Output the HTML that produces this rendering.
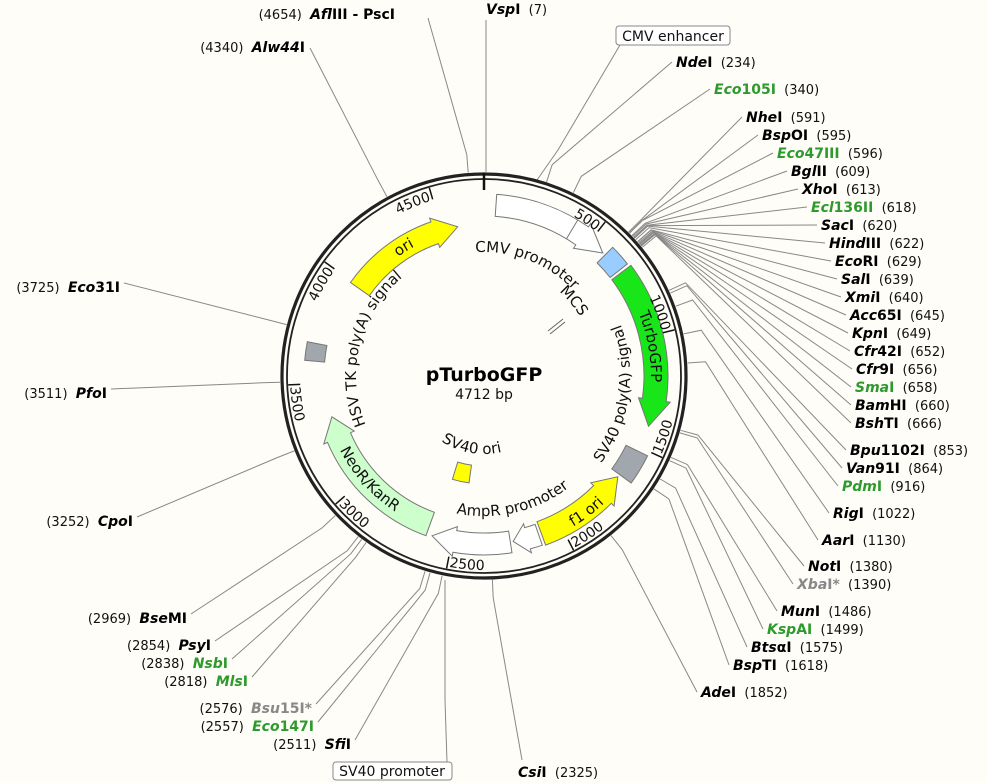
<!DOCTYPE html>
<html><head><meta charset="utf-8">
<style>
html,body{margin:0;padding:0;background:#fffdf7;}
svg{display:block;font-family:"DejaVu Sans","Liberation Sans",sans-serif;}
.n{font-size:13px;fill:#111;}
.e{font-size:14px;font-weight:bold;}
.f{font-size:15px;fill:#111;}
.t{font-size:14px;fill:#111;}
</style></head>
<body>
<svg id="s" width="987" height="783" viewBox="0 0 987 783" xmlns="http://www.w3.org/2000/svg">
<rect width="987" height="783" fill="#fffdf7"/>
<g id="lines" stroke="#888" stroke-width="1" fill="none"></g>
<g id="feat"></g>
<circle cx="484" cy="376" r="202" fill="none" stroke="#222" stroke-width="3.2"/>
<circle cx="484" cy="376" r="197" fill="none" stroke="#222" stroke-width="1.8"/>
<g id="ticks"></g>
<defs id="defs"></defs>
<g id="labels"></g>
<text x="484" y="381" text-anchor="middle" style="font-size:19px;font-weight:bold;fill:#000">pTurboGFP</text>
<text x="484" y="399" text-anchor="middle" style="font-size:14px;fill:#111">4712 bp</text>
<rect x="616" y="26" width="114" height="19" rx="3" fill="#fff" stroke="#888"/>
<text x="673" y="41" text-anchor="middle" class="f" style="font-size:14px">CMV enhancer</text>
<rect x="333" y="762" width="119" height="18" rx="3" fill="#fff" stroke="#888"/>
<text x="392" y="776" text-anchor="middle" class="f" style="font-size:14px">SV40 promoter</text>
</svg>
<script>
var NS="http://www.w3.org/2000/svg",cx=484,cy=376,L=4712;
function P(a,r){var t=a*Math.PI/180;return [cx+r*Math.sin(t),cy-r*Math.cos(t)];}
function el(tag,attrs,parent,txt){var e=document.createElementNS(NS,tag);for(var k in attrs)e.setAttribute(k,attrs[k]);if(txt!=null)e.textContent=txt;document.getElementById(parent).appendChild(e);return e;}
function f(p){return p[0].toFixed(1)+","+p[1].toFixed(1);}
function arc(r,a1,a2){var s=a2>a1?1:0,l=Math.abs(a2-a1)>180?1:0;return "M"+f(P(a1,r))+" A"+r+","+r+" 0 "+l+","+s+" "+f(P(a2,r));}
function arcTo(r,a1,a2){var s=a2>a1?1:0,l=Math.abs(a2-a1)>180?1:0;return " A"+r+","+r+" 0 "+l+","+s+" "+f(P(a2,r));}
function arrow(a1,a2,r1,r2,h,fill){var d=a2>a1?1:-1,ah=a2-d*h,m=(r1+r2)/2;
 var p="M"+f(P(a1,r2))+arcTo(r2,a1,ah)+" L"+f(P(ah,r2+4))+" L"+f(P(a2,m))+" L"+f(P(ah,r1-4))+" L"+f(P(ah,r1))+arcTo(r1,ah,a1)+" Z";
 el("path",{d:p,fill:fill,stroke:"#777","stroke-width":1},"feat");}
function box(a1,a2,r1,r2,fill){var p="M"+f(P(a1,r2))+arcTo(r2,a1,a2)+" L"+f(P(a2,r1))+arcTo(r1,a2,a1)+" Z";el("path",{d:p,fill:fill,stroke:"#777","stroke-width":1},"feat");}
arrow(-55,-10,140,163,9,"#ffff00");
arrow(4,44,160,182,9,"#ffffff");
el("line",{x1:P(31,160)[0],y1:P(31,160)[1],x2:P(31,182)[0],y2:P(31,182)[1],stroke:"#777"},"feat");
box(45,52,160,182,"#99ccff");
arrow(53,107,160,184,9,"#19e619");
box(116,126,158,182,"#a2a6ad");
arrow(160,127,155,180,8,"#ffff00");
arrow(161,170,157,179,5,"#ffffff");
arrow(171,198,157,179,8,"#ffffff");
arrow(200,255,145,170,8,"#ccffcc");
box(275,281,160,180,"#a2a6ad");
box(188,197,90,108,"#ffff00");
el("line",{x1:548,y1:331,x2:563,y2:319,stroke:"#666"},"feat");
el("line",{x1:550,y1:334,x2:565,y2:322,stroke:"#666"},"feat");
var idc=0;
function ctext(str,r,ac,span,cw,cls){var id="p"+(idc++);var a1=cw?ac-span:ac+span,a2=cw?ac+span:ac-span;
 el("path",{id:id,d:arc(r,a1,a2)},"defs");var t=el("text",{"class":cls,"text-anchor":"middle"},"labels");
 var tp=el("textPath",{href:"#"+id,startOffset:"50%"},"labels",str);t.appendChild(tp);}
ctext("CMV promoter",124,21,60,true,"f");
ctext("MCS",113,50,40,true,"f");
ctext("TurboGFP",167,80,60,true,"f");
ctext("SV40 poly(A) signal",146,98,80,false,"f");
ctext("f1 ori",175,143,50,false,"f");
ctext("AmpR promoter",140,167,60,false,"f");
ctext("NeoR/KanR",162,228,60,false,"f");
ctext("HSV TK poly(A) signal",128,284,80,true,"f");
ctext("ori",147,-32,40,true,"f");
ctext("SV40 ori",78,190,50,false,"f");
el("line",{x1:484,y1:173,x2:484,y2:190,stroke:"#111","stroke-width":2.5},"ticks");
[500,1000,1500,2000,2500,3000,3500,4000,4500].forEach(function(v){var a=v/L*360,p1=P(a,196),p2=P(a,184);
 el("line",{x1:p1[0],y1:p1[1],x2:p2[0],y2:p2[1],stroke:"#111","stroke-width":1.5},"ticks");
 var cw=(v<=1000||v>=4000),id="p"+(idc++);
 if(cw){el("path",{id:id,d:arc(183,a-40,a-0.6)},"defs");var t=el("text",{"class":"t","text-anchor":"end"},"labels");t.appendChild(el("textPath",{href:"#"+id,startOffset:"100%"},"labels",String(v)));}
 else{el("path",{id:id,d:arc(194,a-0.6,a-40)},"defs");var t=el("text",{"class":"t","text-anchor":"start"},"labels");t.appendChild(el("textPath",{href:"#"+id,startOffset:"0%"},"labels",String(v)));}
});
var G="#2e9a2e",Y="#888",B="#000";
var R=[["Vsp","I",7,486,14,B],["Nde","I",234,676,67,B],["Eco","105I",340,714,94,G],["Nhe","I",591,746,122,B],["Bsp","OI",595,762,140,B],
["Eco","47III",596,777,158,G],["Bgl","II",609,791,176,B],["Xho","I",613,802,194,B],["Ecl","136II",618,811,212,G],["Sac","I",620,821,230,B],
["Hind","III",622,829,248,B],["Eco","RI",629,835,266,B],["Sal","I",639,841,284,B],["Xmi","I",640,845,302,B],["Acc","65I",645,850,320,B],
["Kpn","I",649,852,338,B],["Cfr","42I",652,854,356,B],["Cfr","9I",656,856,374,B],["Sma","I",658,855,392,G],["Bam","HI",660,855,410,B],
["Bsh","TI",666,855,428,B],["Bpu","1102I",853,850,455,B],["Van","91I",864,846,473,B],["Pdm","I",916,842,491,G],["Rig","I",1022,833,518,B],
["Aar","I",1130,822,545,B],["Not","I",1380,808,571,B],["Xba","I*",1390,797,589,Y],["Mun","I",1486,781,616,B],["Ksp","AI",1499,767,634,G],
["Bts","αI",1575,751,652,B],["Bsp","TI",1618,733,670,B],["Ade","I",1852,701,697,B],["Csi","I",2325,518,777,B]];
var Lf=[["Sfi","I",2511,351,749,B],["Eco","147I",2557,314,731,G],["Bsu","15I*",2576,312,713,Y],["Mls","I",2818,248,686,G],["Nsb","I",2838,228,668,G],
["Psy","I",2854,211,650,B],["Bse","MI",2969,187,623,B],["Cpo","I",3252,133,526,B],["Pfo","I",3511,107,398,B],["Eco","31I",3725,120,292,B],
["Alw44","I",4340,305,52,B],["Afl","III - PscI",4654,395,19,B]];
function name(t,it,ro,col){var a=el("tspan",{"font-style":"italic",fill:col},"labels",it);t.appendChild(a);var b=el("tspan",{fill:col},"labels",ro);t.appendChild(b);}
function line(pos,ax,ay){var a=pos/L*360,p1=P(a,204),p2=P(a,222);el("polyline",{points:f(p1)+" "+f(p2)+" "+ax+","+ay},"lines");}
R.forEach(function(d){var t=el("text",{x:d[3],y:d[4],"class":"e"},"labels");name(t,d[0],d[1],d[5]);
 var n=el("tspan",{"class":"n","font-weight":"normal"},"labels","\u00a0\u00a0("+d[2]+")");t.appendChild(n);
 if(d[2]==7){el("line",{x1:486,y1:172,x2:486,y2:20},"lines");}
 else if(d[2]==2325){line(d[2],522,760);}
 else line(d[2],d[3]-4,d[4]-5);});
Lf.forEach(function(d){var t=el("text",{x:d[3],y:d[4],"text-anchor":"end","class":"e"},"labels");
 var n=el("tspan",{"class":"n","font-weight":"normal"},"labels","("+d[2]+")\u00a0\u00a0");t.appendChild(n);
 name(t,d[0],d[1],d[5]);
 if(d[2]==4654)line(d[2],428,18);else if(d[2]==4340)line(d[2],310,48);else line(d[2],d[3]+4,d[4]-9);});
el("polyline",{points:"537,180 558,150 620,45"},"lines");
el("polyline",{points:"445,580 445,700 447,762"},"lines");
</script>
</body></html>
